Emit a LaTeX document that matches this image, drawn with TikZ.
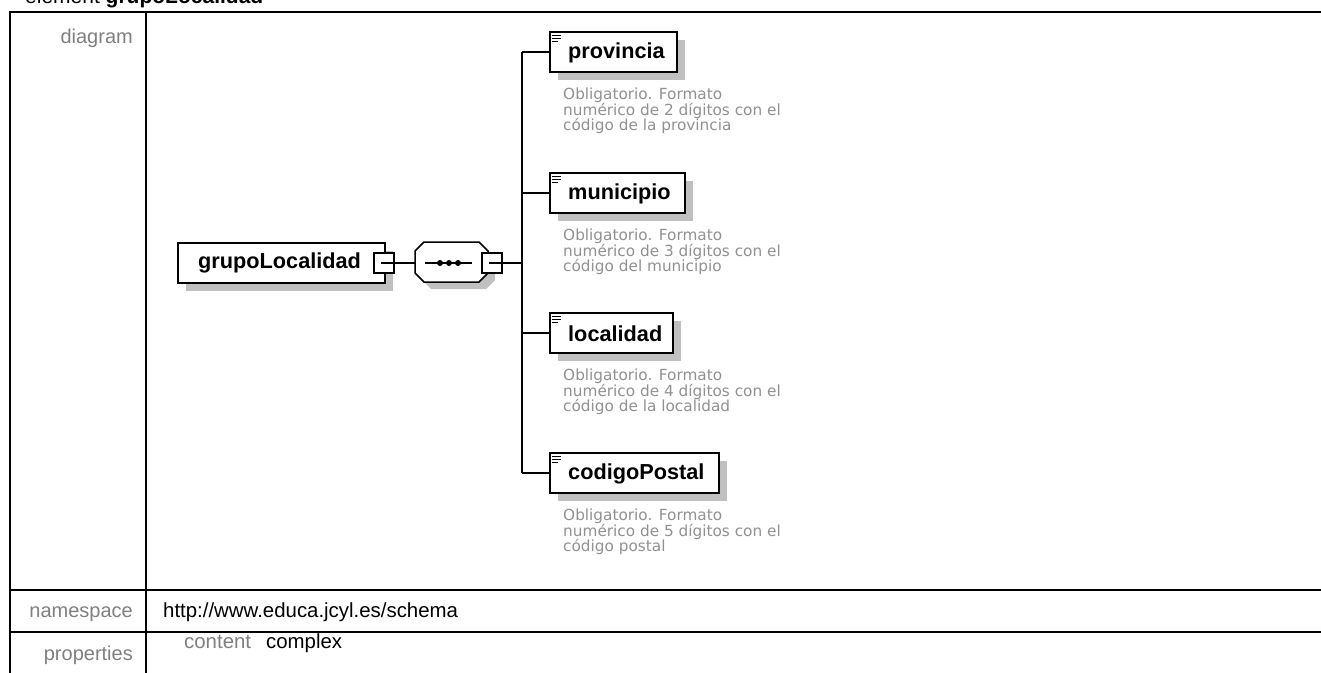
\documentclass[tikz,border=0pt]{standalone}
\usepackage{fontspec}
\setmainfont{Liberation Sans}
\newfontfamily\notefont{DejaVu Sans}
\usetikzlibrary{shadows}
\definecolor{lblgray}{RGB}{128,128,128}
\definecolor{notegray}{RGB}{145,145,145}
\definecolor{shgray}{RGB}{192,192,192}
\tikzset{
  tline/.style={line width=2pt, black},
  conn/.style={line width=1.5pt, black},
  elbox/.style={draw, line width=1.5pt, fill=white, rectangle, inner sep=0pt,
    minimum height=40pt, drop shadow={shadow xshift=8pt, shadow yshift=-8pt, fill=shgray, opacity=1}},
  minusbox/.style={draw, line width=1.3pt, fill=white, rectangle, inner sep=0pt, minimum size=20pt},
  eltext/.style={font=\fontsize{21.7}{25}\selectfont\bfseries, inner sep=0pt, anchor=west},
  note/.style={font=\notefont\fontsize{15.3}{15.5}\selectfont, text=notegray, inner sep=0pt, anchor=north west, align=left},
  lbl/.style={font=\fontsize{20}{24}\selectfont, text=lblgray, inner sep=0pt, anchor=base east},
  val/.style={font=\fontsize{20.4}{24}\selectfont, text=black, inner sep=0pt, anchor=base west},
}
\newcommand{\elicon}[1]{%
  \draw[line width=1pt] ([shift={(3pt,-4pt)}]#1.north west) -- ++(9pt,0pt);
  \draw[line width=1pt] ([shift={(3pt,-7pt)}]#1.north west) -- ++(9pt,0pt);
  \draw[line width=1pt] ([shift={(3pt,-10pt)}]#1.north west) -- ++(6pt,0pt);}
\newcommand{\minusline}[1]{\draw[line width=1.2pt] ([xshift=3pt]#1.center) ++(-6pt,0) -- ++(12pt,0);}
\newcommand{\octpath}[3]{% #1 x-offset, #2 y-offset, #3 options
  \path[#3] (415+#1,251+#2) -- (424+#1,242+#2) -- (479+#1,242+#2) -- (488+#1,251+#2) -- (488+#1,273+#2) -- (479+#1,282+#2) -- (424+#1,282+#2) -- (415+#1,273+#2) -- cycle;}
\begin{document}
\begin{tikzpicture}[x=1pt,y=-1pt]
\useasboundingbox[fill=white] (0,0) rectangle (1321,672);
% title (cut at top)
\node[anchor=base west, inner sep=0pt, font=\fontsize{21}{25}\selectfont] (title) at (25,3) {element \textbf{grupoLocalidad}};
% table
\draw[tline] (10,680) -- (10,12) -- (1330,12);
\draw[tline] (146,12) -- (146,680);
\draw[tline] (10,590) -- (1330,590);
\draw[tline] (10,632) -- (1330,632);
\node[lbl] (ldiag) at (133,43) {diagram};
\node[lbl] (lns) at (133,617) {namespace};
\node[lbl] (lprop) at (133,660) {properties};
\node[val] (vns) at (163,617) {http://www.educa.jcyl.es/schema};
\node[val, text=lblgray] (vcont) at (184,648) {content};
\node[val] (vcomp) at (266,648) {complex};
% root
\node[elbox, minimum width=207pt] (root) at (281.5,263) {};
\node[eltext] (roott) at (198,263) {grupoLocalidad};
\node[minusbox] (m1) at (384,263) {};
\minusline{m1}
% sequence compositor
\octpath{7}{7}{fill=shgray}
\octpath{0}{0}{draw, line width=1.5pt, fill=white}
\node[rectangle, inner sep=0pt, minimum width=73pt, minimum height=40pt] (seq) at (451.5,262) {};
\draw[conn] (m1.east) -- (seq.west |- m1.east);
\draw[line width=1.5pt] (425,263) -- (472,263);
\foreach \dx in {440,449,458} \fill (\dx,263) circle (3pt);
\node[minusbox] (m2) at (492,263) {};
\minusline{m2}
\coordinate (vm) at (522,263);
\coordinate (vt) at (522,52);
\coordinate (vb) at (522,473);
\draw[conn] (m2.east) -- (vm);
\draw[conn] (vt) -- (vb);
% children
\node[elbox, minimum width=127pt] (prov) at (613.5,52) {};
\node[elbox, minimum width=135pt] (muni) at (617.5,193) {};
\node[elbox, minimum width=123pt] (loca) at (611.5,333) {};
\node[elbox, minimum width=169pt] (cp) at (634.5,473) {};
\foreach \n in {prov,muni,loca,cp} {\elicon{\n}}
\draw[conn] (vt) -- (prov.west);
\draw[conn] (522,193) -- (muni.west);
\draw[conn] (522,333) -- (loca.west);
\draw[conn] (vb) -- (cp.west);
\node[eltext] (provt) at (568,53) {provincia};
\node[eltext] (munit) at (568,194) {municipio};
\node[eltext] (locat) at (568,334) {localidad};
\node[eltext] (cpt) at (568,474) {codigoPostal};
% notes
\node[note] (provn) at (563,88) {Obligatorio. Formato\\numérico de 2 dígitos con el\\código de la provincia};
\node[note] (munin) at (563,229) {Obligatorio. Formato\\numérico de 3 dígitos con el\\código del municipio};
\node[note] (locan) at (563,369) {Obligatorio. Formato\\numérico de 4 dígitos con el\\código de la localidad};
\node[note] (cpn) at (563,509) {Obligatorio. Formato\\numérico de 5 dígitos con el\\código postal};
\end{tikzpicture}
\end{document}
